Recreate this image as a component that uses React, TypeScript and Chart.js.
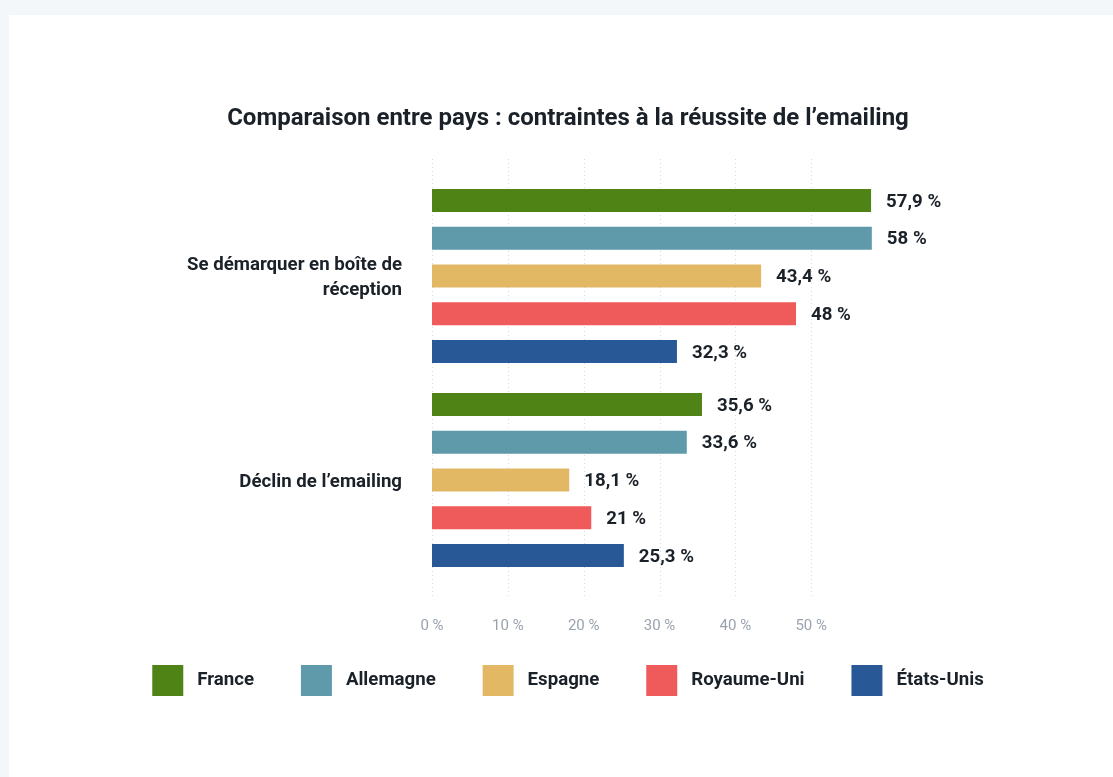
import React, { useEffect, useRef } from 'react';
import { Chart, registerables } from 'chart.js';

Chart.register(...registerables);

const categories: (string | string[])[] = [['Se démarquer en boîte de', 'réception'], 'Déclin de l’emailing'];
const countries = ['France', 'Allemagne', 'Espagne', 'Royaume-Uni', 'États-Unis'];
const france = [57.9, 35.6];
const allemagne = [58, 33.6];
const espagne = [43.4, 18.1];
const royaumeUni = [48, 21];
const etatsUnis = [32.3, 25.3];
const seriesValues = [france, allemagne, espagne, royaumeUni, etatsUnis];
const seriesColors = ['#508315', '#5f9aab', '#e3b865', '#ef5a5a', '#285996'];
const xTickValues = [0, 10, 20, 30, 40, 50];
const xTickLabels = ['0 %', '10 %', '20 %', '30 %', '40 %', '50 %'];
const titleText = 'Comparaison entre pays : contraintes à la réussite de l’emailing';

const TEXT = '#1b2128';
const FONT = 'Roboto';
const LABEL_SIZE = 18.67;

const dotGridPlugin = {
  id: 'dotGrid',
  beforeDatasetsDraw(chart: any) {
    const { ctx, chartArea, scales } = chart;
    const x = scales.x;
    ctx.save();
    ctx.strokeStyle = '#d6dadf';
    ctx.lineWidth = 1;
    ctx.setLineDash([1, 3]);
    x.ticks.forEach((t: any) => {
      const px = Math.round(x.getPixelForValue(t.value)) + 0.5;
      ctx.beginPath();
      ctx.moveTo(px, chartArea.top - 15);
      ctx.lineTo(px, chartArea.bottom + 15);
      ctx.stroke();
    });
    ctx.restore();
  },
};

const valueLabelPlugin = {
  id: 'valueLabels',
  afterDatasetsDraw(chart: any) {
    const { ctx } = chart;
    ctx.save();
    ctx.font = `bold ${LABEL_SIZE}px ${FONT}`;
    ctx.fillStyle = TEXT;
    ctx.textAlign = 'left';
    ctx.textBaseline = 'middle';
    chart.data.datasets.forEach((ds: any, i: number) => {
      const meta = chart.getDatasetMeta(i);
      meta.data.forEach((bar: any, j: number) => {
        const v = ds.data[j];
        ctx.fillText(String(v).replace('.', ',') + ' %', bar.x + 15, bar.y + 1.5);
      });
    });
    ctx.restore();
  },
};

function BarChart() {
  const ref = useRef<HTMLCanvasElement>(null);
  useEffect(() => {
    if (!ref.current) return;
    Chart.defaults.font.family = FONT;
    const chart = new Chart(ref.current, {
      type: 'bar',
      data: {
        labels: categories as any,
        datasets: countries.map((name, i) => ({
          label: name,
          data: seriesValues[i],
          backgroundColor: seriesColors[i],
          borderWidth: 0,
          barPercentage: 0.609,
          categoryPercentage: 0.925,
        })),
      },
      options: {
        indexAxis: 'y',
        responsive: false,
        animation: false,
        layout: { padding: { left: 20, right: 6, top: 0, bottom: 71 } },
        scales: {
          x: {
            min: 0,
            max: 60,
            grid: { display: false, drawTicks: false },
            border: { display: false },
            afterBuildTicks: (scale: any) => {
              scale.ticks = xTickValues.map((v) => ({ value: v }));
            },
            afterFit: (scale: any) => {
              scale.height = 50;
            },
            ticks: {
              padding: 35,
              color: '#9aa3ad',
              font: { size: 15, family: FONT, lineHeight: 1.2 },
              callback: (v: any) => {
                const idx = xTickValues.indexOf(Number(v));
                return idx >= 0 ? xTickLabels[idx] : '';
              },
            },
          },
          y: {
            position: 'left',
            grid: { display: false, drawTicks: false },
            border: { display: false },
            afterFit: (scale: any) => {
              scale.width = 403;
            },
            ticks: {
              padding: 30,
              labelOffset: 2,
              color: TEXT,
              font: { size: LABEL_SIZE, weight: 'bold', family: FONT, lineHeight: 1.36 },
            },
          },
          y2: {
            type: 'category',
            position: 'right',
            display: true,
            grid: { display: false, drawTicks: false },
            border: { display: false },
            ticks: { display: false },
            afterFit: (scale: any) => {
              scale.width = 220;
            },
          },
        } as any,
        plugins: {
          title: {
            display: true,
            text: titleText,
            color: TEXT,
            font: { size: 24, weight: 'bold', family: FONT, lineHeight: 1.2 },
            padding: { top: 89.6, bottom: 40.6 },
          },
          legend: {
            display: true,
            position: 'bottom',
            labels: {
              boxWidth: 31,
              boxHeight: 31,
              padding: 33,
              color: TEXT,
              font: { size: LABEL_SIZE, weight: 'bold', family: FONT },
              generateLabels: (c: any) => {
                const items = (Chart.defaults.plugins.legend.labels.generateLabels as any)(c);
                return items.map((l: any, i: number) => ({
                  ...l,
                  text: ' ' + l.text + (i < items.length - 1 ? '   ' : ''),
                }));
              },
            },
          },
          tooltip: { enabled: false },
        },
      },
      plugins: [dotGridPlugin, valueLabelPlugin],
    } as any);
    return () => chart.destroy();
  }, []);
  return <canvas ref={ref} width={1104} height={762} style={{ width: 1104, height: 762, display: 'block' }} />;
}

export default function App() {
  return (
    <div style={{ position: 'fixed', inset: 0, background: '#f4f7fa', overflow: 'hidden' }}>
      <div style={{ position: 'absolute', left: 9, top: 15, right: 0, bottom: 0, background: '#ffffff' }}>
        <BarChart />
      </div>
    </div>
  );
}
